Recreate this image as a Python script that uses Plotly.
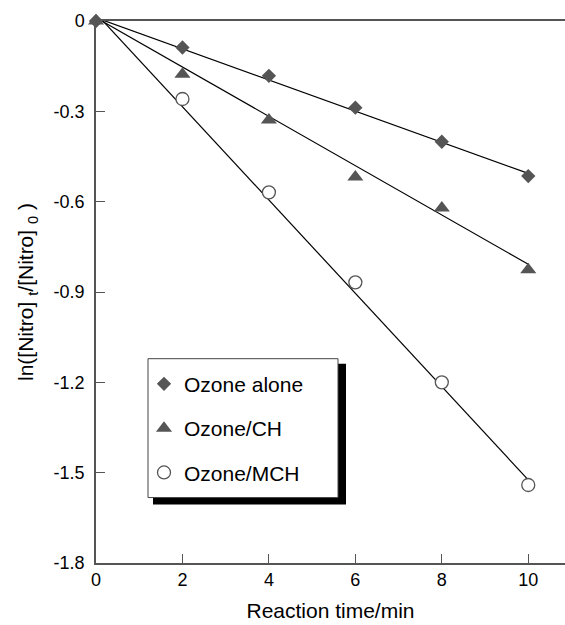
import plotly.graph_objects as go

# ---- data ----
time = [0, 2, 4, 6, 8, 10]
ozone_alone = [0.0, -0.088, -0.182, -0.288, -0.401, -0.515]
ozone_ch = [0.0, -0.177, -0.329, -0.518, -0.621, -0.826]
ozone_mch = [0.01, -0.259, -0.569, -0.868, -1.20, -1.541]

fit_x = [0, 10]
fit_alone = [0.011, -0.506]
fit_ch = [0.011, -0.808]
fit_mch = [0.025, -1.524]

x_ticks = [0, 2, 4, 6, 8, 10]
y_ticks = [0, -0.3, -0.6, -0.9, -1.2, -1.5, -1.8]
y_ticktext = ["0", "-0.3", "-0.6", "-0.9", "-1.2", "-1.5", "-1.8"]

names = ["Ozone alone", "Ozone/CH", "Ozone/MCH"]

FONT = "Arial, Liberation Sans, sans-serif"
MK = "#555555"
AX = "#555555"

fig = go.Figure()

# fit lines
for fy in [fit_alone, fit_ch, fit_mch]:
    fig.add_trace(go.Scatter(x=fit_x, y=fy, mode="lines",
                             line=dict(color="black", width=1.2),
                             showlegend=False, hoverinfo="skip"))

# data markers
fig.add_trace(go.Scatter(x=time, y=ozone_alone, mode="markers", name=names[0],
                         legendgroup="a",
                         marker=dict(symbol="diamond", size=11, color=MK, line=dict(width=0)),
                         cliponaxis=False))
fig.add_trace(go.Scatter(x=time, y=ozone_ch, mode="markers", name=names[1],
                         legendgroup="b",
                         marker=dict(symbol="triangle-up", size=14, color=MK, line=dict(width=0)),
                         cliponaxis=False))
fig.add_trace(go.Scatter(x=time, y=ozone_mch, mode="markers", name=names[2],
                         legendgroup="c",
                         marker=dict(symbol="circle", size=13, color="white",
                                     line=dict(width=1.3, color=MK)),
                         cliponaxis=False))

# legend box (shadow + white box)
def px2x(p):
    return (p - 96) / 469.0

def py2y(p):
    return (563.5 - p) / 542.5

fig.add_shape(type="rect", xref="paper", yref="paper",
              x0=px2x(153), x1=px2x(346), y0=py2y(505), y1=py2y(364),
              fillcolor="black", line=dict(width=0), layer="above")
fig.add_shape(type="rect", xref="paper", yref="paper",
              x0=px2x(148), x1=px2x(338), y0=py2y(498), y1=py2y(359),
              fillcolor="white", line=dict(width=1, color="#444444"), layer="above")

fig.update_layout(
    width=565, height=625,
    margin=dict(l=96, r=0, t=21, b=61.5),
    paper_bgcolor="white", plot_bgcolor="white",
    font=dict(family=FONT, size=18, color="black"),
    showlegend=True,
    legend=dict(x=px2x(144), y=py2y(364), xanchor="left", yanchor="top",
                bgcolor="rgba(0,0,0,0)", borderwidth=0,
                font=dict(size=21, family=FONT, color="black"),
                tracegroupgap=14, itemsizing="trace"),
    xaxis=dict(range=[0, 10.85], tickvals=x_ticks, ticks="inside", ticklen=9,
               tickcolor=AX, tickwidth=1.3, showline=True, linecolor=AX, linewidth=1.5,
               mirror=True, showgrid=False, zeroline=False,
               title=dict(text="Reaction time/min", font=dict(size=21), standoff=14),
               tickfont=dict(size=18)),
    yaxis=dict(range=[-1.8, 0], tickvals=y_ticks, ticktext=y_ticktext, ticks="inside",
               ticklen=9, tickcolor=AX, tickwidth=1.3, showline=True, linecolor=AX,
               linewidth=1.5, showgrid=False, zeroline=False,
               ticklabelstandoff=6,
               title=dict(text="ln([Nitro] <sub>t</sub>/[Nitro] <sub>0</sub> )",
                          font=dict(size=21), standoff=14),
               tickfont=dict(size=18)),
)

fig.write_html("out.html")
